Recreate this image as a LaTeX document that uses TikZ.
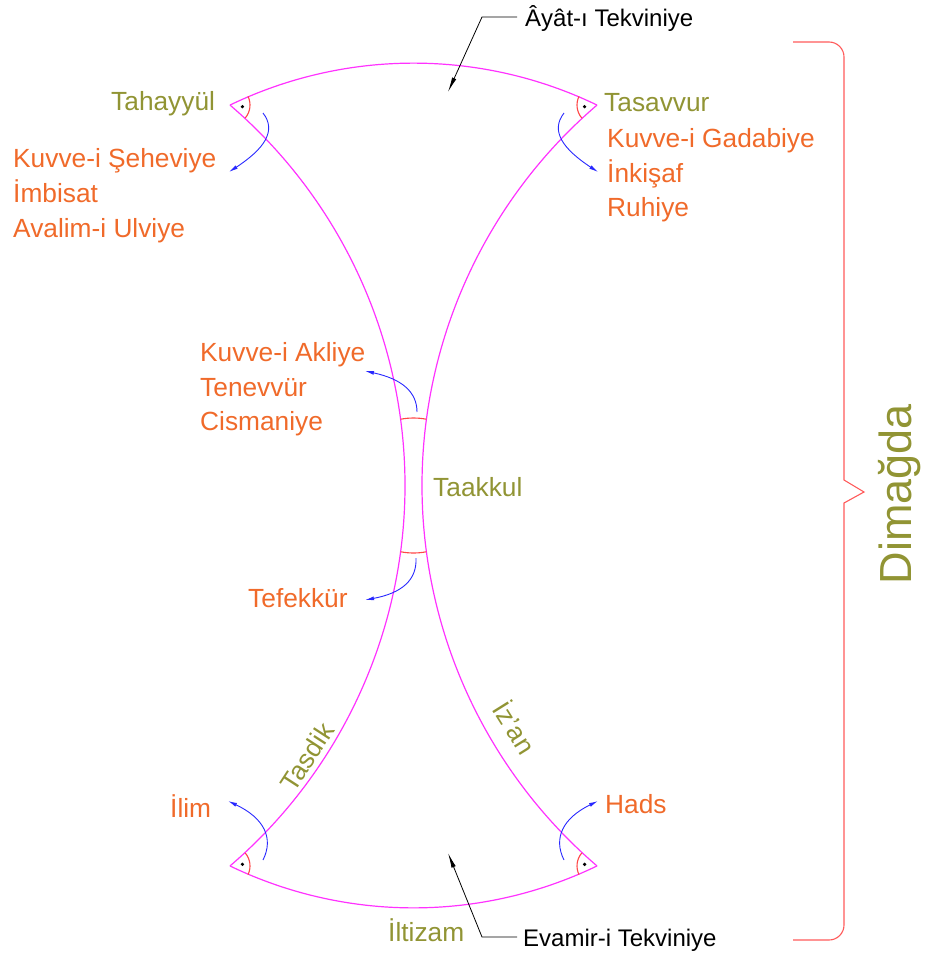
\documentclass[tikz,border=0pt]{standalone}
\usepackage{fontspec}
\setmainfont{Liberation Sans}
\usetikzlibrary{arrows.meta}
\definecolor{olivetxt}{RGB}{145,148,52}
\definecolor{orangetxt}{RGB}{240,106,42}
\definecolor{pinkline}{RGB}{255,50,255}
\definecolor{redmark}{RGB}{255,70,70}
\definecolor{bluearrow}{RGB}{40,40,255}
\definecolor{bracecol}{RGB}{255,90,90}
\begin{document}
\begin{tikzpicture}[x=1pt,y=-1pt,
  shapeline/.style={pinkline, line width=1.2pt},
  anglemark/.style={redmark, line width=1.1pt},
  bluearr/.style={bluearrow, line width=0.9pt, -{Latex[length=9pt,width=4pt]}},
  leader/.style={black, line width=0.8pt, -{Latex[length=15pt,width=4.5pt]}},
  oltext/.style={text=olivetxt, font=\fontsize{26.3}{30}\selectfont, inner sep=0pt, anchor=base west},
  ortext/.style={text=orangetxt, font=\fontsize{26.3}{30}\selectfont, inner sep=0pt, anchor=base west},
  bltext/.style={text=black, font=\fontsize{24}{28}\selectfont, inner sep=0pt, anchor=base west},
]
\useasboundingbox (0,0) rectangle (928,958);
% centres
\coordinate (C) at (413.5,485.5);
\coordinate (LC) at (-96.1,485.5);
\coordinate (RC) at (923.1,485.5);
% vertices
\coordinate (TL) at ([shift={(-115.75:422.4)}]C);
\coordinate (TR) at ([shift={(-64.25:422.4)}]C);
\coordinate (BL) at ([shift={(115.75:422.4)}]C);
\coordinate (BR) at ([shift={(64.25:422.4)}]C);
% outline
\draw[shapeline] (TL) arc[start angle=-115.75, end angle=-64.25, radius=422.4];
\draw[shapeline] (BR) arc[start angle=64.25, end angle=115.75, radius=422.4];
\draw[shapeline] (TL) arc[start angle=-49.4, end angle=49.4, radius=501.1];
\draw[shapeline] (TR) arc[start angle=229.4, end angle=130.6, radius=501.1];
% angle marks
\draw[anglemark] ([shift={(-25.75:20)}]TL) arc[start angle=-25.75, end angle=40.6, radius=20];
\draw[anglemark] ([shift={(139.4:20)}]TR) arc[start angle=139.4, end angle=205.75, radius=20];
\draw[anglemark] ([shift={(-40.6:20)}]BL) arc[start angle=-40.6, end angle=25.75, radius=20];
\draw[anglemark] ([shift={(154.25:20)}]BR) arc[start angle=154.25, end angle=220.6, radius=20];
\draw[anglemark] ([shift={(-101:67.5)}]C) arc[start angle=-101, end angle=-79, radius=67.5];
\draw[anglemark] ([shift={(79:67.5)}]C) arc[start angle=79, end angle=101, radius=67.5];
% dots
\fill ([shift={(7.4:12.5)}]TL) circle[radius=1.8];
\fill ([shift={(172.6:12.5)}]TR) circle[radius=1.8];
\fill ([shift={(-7.4:12.5)}]BL) circle[radius=1.8];
\fill ([shift={(187.4:12.5)}]BR) circle[radius=1.8];
% blue arrows
\coordinate (b1s) at (263,113); \coordinate (b1e) at (229,172);
\coordinate (b2s) at (564,113); \coordinate (b2e) at (598,172);
\coordinate (b3s) at (417,412); \coordinate (b3e) at (365,371);
\coordinate (b4s) at (416,558); \coordinate (b4e) at (365,600);
\coordinate (b5s) at (263,860); \coordinate (b5e) at (228,801);
\coordinate (b6s) at (564,860); \coordinate (b6e) at (598,801);
\draw[bluearr] (b1s) .. controls (277,131) and (264,149) .. (b1e);
\draw[bluearr] (b2s) .. controls (550,131) and (563,149) .. (b2e);
\draw[bluearr] (b3s) .. controls (417,392) and (402,379) .. (b3e);
\draw[bluearr] (b4s) .. controls (417,580) and (402,593) .. (b4e);
\draw[bluearr] (b5s) .. controls (274,838) and (264,818) .. (b5e);
\draw[bluearr] (b6s) .. controls (553,838) and (563,818) .. (b6e);
% brace
\draw[bracecol, line width=1.1pt] (793,42) -- (829,42) arc[start angle=-90, end angle=0, radius=15]
  -- (844,480) -- (864,492) -- (844,503) -- (844,925) arc[start angle=0, end angle=90, radius=15] -- (793,940);
% texts
\node[oltext] (tahayyul) at (111,110) {Tahayyül};
\node[oltext] (tasavvur) at (604,111) {Tasavvur};
\node[ortext] (gadabiye) at (607,147) {Kuvve-i Gadabiye};
\node[ortext] (inkisaf) at (607,182) {İnkişaf};
\node[ortext] (ruhiye) at (607,216) {Ruhiye};
\node[ortext] (seheviye) at (13,167) {Kuvve-i Şeheviye};
\node[ortext] (imbisat) at (13,202) {İmbisat};
\node[ortext] (avalim) at (13,237) {Avalim-i Ulviye};
\node[ortext] (akliye) at (200,361) {Kuvve-i Akliye};
\node[ortext] (tenevvur) at (200,396) {Tenevvür};
\node[ortext] (cismaniye) at (200,430) {Cismaniye};
\node[oltext] (taakkul) at (433,496) {Taakkul};
\node[ortext] (tefekkur) at (248,607) {Tefekkür};
\node[ortext] (ilim) at (170,817) {İlim};
\node[ortext] (hads) at (605,813) {Hads};
\node[oltext] (iltizam) at (388,941) {İltizam};
\node[oltext, anchor=center, rotate=57] (tasdik) at (307,757) {Tasdik};
\node[oltext, anchor=center, rotate=-58] (izan) at (516,727) {İz\char"27 an};
\node[text=olivetxt, font=\fontsize{45}{50}\selectfont, inner sep=0pt, rotate=90] (dimagda) at (900,494) {Dimağda};
\node[bltext] (ayat) at (525,27) {Âyât-ı Tekviniye};
\node[bltext] (evamir) at (523,946) {Evamir-i Tekviniye};
% leaders
\coordinate (ayatStart) at (517,17); \coordinate (ayatBend) at (482,17); \coordinate (ayatTip) at (448,92);
\coordinate (evStart) at (517,937); \coordinate (evBend) at (482,937); \coordinate (evTip) at (448,853);
\draw[leader] (ayatStart) -- (ayatBend) -- (ayatTip);
\draw[leader] (evStart) -- (evBend) -- (evTip);
\end{tikzpicture}
\end{document}
